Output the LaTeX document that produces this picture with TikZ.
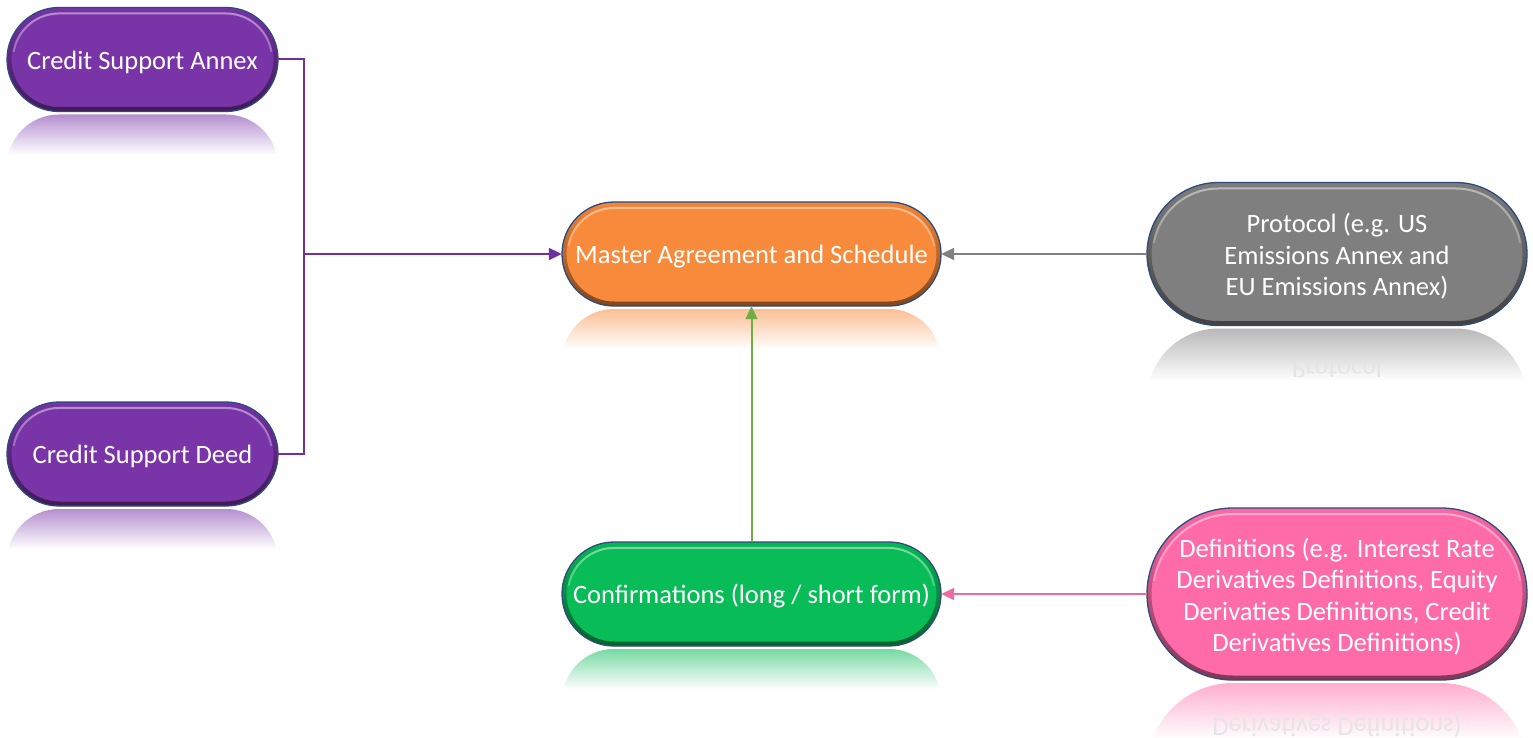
\documentclass[tikz,border=0pt]{standalone}
\usepackage{fontspec}
\setmainfont{Carlito}
\usetikzlibrary{arrows.meta,fadings}

\definecolor{cPurple}{HTML}{7934A8}
\definecolor{cOrange}{HTML}{F78A3B}
\definecolor{cGray}{HTML}{7F7F7F}
\definecolor{cGreen}{HTML}{08BC57}
\definecolor{cPink}{HTML}{FF6BA8}
\definecolor{cNavy}{HTML}{2F4B7E}
\definecolor{lPurple}{HTML}{7030A0}
\definecolor{lGray}{HTML}{808080}
\definecolor{lGreen}{HTML}{70AD47}
\definecolor{lPink}{HTML}{EE6AA7}

\tikzset{
  pilltext/.style={text=white, align=center, inner sep=0pt,
    font=\fontsize{26.5}{31.5}\selectfont},
  link/.style={line width=2pt},
  linkarrow/.style={link, -{Triangle[length=13pt,width=12pt]}},
  mirrortext/.style={text=black!10, inner sep=0pt, yscale=-1, transform shape,
    font=\fontsize{26.5}{31.5}\selectfont}
}

% glossy pill with its reflection:
% #1 name, #2 cx, #3 cy, #4 width, #5 height, #6 colour, #7 reflection height, #8 text
\newcommand\pillbox[8]{%
  \pgfmathsetmacro\pL{#2-#4/2}%
  \pgfmathsetmacro\pR{#2+#4/2}%
  \pgfmathsetmacro\pT{#3-#5/2}%
  \pgfmathsetmacro\pB{#3+#5/2}%
  \pgfmathsetmacro\pRad{#5/2}%
  % reflection below the pill
  \begin{scope}
    \clip[rounded corners=\pRad pt] (\pL,\pB+3) rectangle (\pR,\pB+3+#5);
    \fill[#6!55!white, path fading=south] (\pL,\pB+3) rectangle (\pR,\pB+3+#7);
  \end{scope}
  % body
  \node[draw=none, fill=#6, rounded corners=\pRad pt, inner sep=0pt,
        minimum width=#4pt, minimum height=#5pt] (#1) at (#2,#3) {};
  % inner shadow
  \begin{scope}
    \clip[rounded corners=\pRad pt] (\pL,\pT) rectangle (\pR,\pB);
    \draw[black, opacity=0.5, line width=9pt, path fading=north,
          rounded corners=\pRad pt] (\pL,\pT) rectangle (\pR,\pB);
  \end{scope}
  % top highlight
  \begin{scope}
    \clip (\pL,\pT) rectangle (\pR,\pT+0.42*#5);
    \draw[white, opacity=0.45, line width=2pt, path fading=south,
          rounded corners=\pRad pt - 6pt] (\pL+6,\pT+6) rectangle (\pR-6,\pB-6);
  \end{scope}
  \draw[cNavy, line width=1.3pt, rounded corners=\pRad pt] (\pL,\pT) rectangle (\pR,\pB);
  \node[pilltext] (#1-t) at (#2,#3+2.5) {#8};
}

\begin{document}
\begin{tikzpicture}[x=1pt, y=-1pt]
  \useasboundingbox[fill=white] (0,0) rectangle (1533,738);

  \pillbox{csa}{142.5}{59.5}{271}{104}{cPurple}{40}{Credit Support Annex}
  \pillbox{csd}{142.5}{454}{271}{104}{cPurple}{40}{Credit Support Deed}
  \pillbox{mas}{751.5}{254}{379}{104}{cOrange}{40}{Master Agreement and Schedule}
  \pillbox{con}{751.5}{594}{379}{104}{cGreen}{40}{Confirmations (long / short form)}
  \pillbox{pro}{1337}{254}{380}{143}{cGray}{52}{Protocol (e.g. US\\Emissions Annex and\\EU Emissions Annex)}
  \pillbox{def}{1337}{594}{380}{172}{cPink}{56}{Definitions (e.g. Interest Rate\\Derivatives Definitions, Equity\\Derivaties Definitions, Credit\\Derivatives Definitions)}

  % faint mirrored captions inside the reflections
  \begin{scope}
    \clip (1147,330) rectangle (1527,376);
    \node[mirrortext] (pro-m) at (1337,371) {Protocol};
  \end{scope}
  \begin{scope}
    \clip (1147,690) rectangle (1527,738);
    \node[mirrortext] (def-m) at (1337,726) {Derivatives Definitions)};
  \end{scope}

  % connectors
  \coordinate (jn) at (304,254);
  \draw[link, lPurple] (csa.east) -| (jn) |- (csd.east);
  \draw[linkarrow, lPurple] (jn) -- (mas.west);
  \draw[linkarrow, lGray] (pro.west) -- (mas.east);
  \draw[linkarrow, lGreen] (con.north) -- (mas.south);
  \draw[linkarrow, lPink] (def.west) -- (con.east);
\end{tikzpicture}
\end{document}
